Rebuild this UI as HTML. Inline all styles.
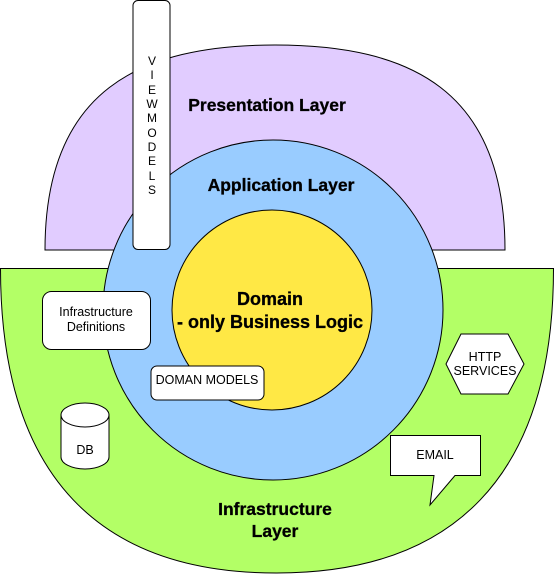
<!DOCTYPE html>
<html><head><meta charset="utf-8"><style>
html,body{margin:0;padding:0;background:#fff;}
svg{display:block;}
text{font-family:"Liberation Sans",Arial,sans-serif;fill:#000;}
</style></head><body>
<svg width="554" height="574" viewBox="0 0 554 574" xmlns="http://www.w3.org/2000/svg">
<path d="M45,250 C45,90 140,45 275,45 C410,45 505,90 505,250 Z" fill="#e1ccff" stroke="#000" stroke-width="1"/>
<path d="M0.5,268.5 L553.5,268.5 C553.5,480 450,573 276.5,573 C103,573 0.5,480 0.5,268.5 Z" fill="#b3ff66" stroke="#000" stroke-width="1"/>
<text x="267" y="111" font-size="17.5" font-weight="bold" text-anchor="middle" stroke="#000" stroke-width="0.3">Presentation Layer</text>
<circle cx="273" cy="310" r="170" fill="#99ccff" stroke="#000"/>
<circle cx="272" cy="310" r="100" fill="#ffe845" stroke="#000"/>
<text x="281" y="191" font-size="17.5" font-weight="bold" text-anchor="middle" stroke="#000" stroke-width="0.3">Application Layer</text>
<text x="270" y="305" font-size="18" font-weight="bold" text-anchor="middle" stroke="#000" stroke-width="0.3">Domain</text>
<text x="270" y="328" font-size="18" font-weight="bold" text-anchor="middle" stroke="#000" stroke-width="0.3">- only Business Logic</text>
<rect x="133" y="0.5" width="37" height="249" rx="5" fill="#fff" stroke="#000"/>
<g font-size="12" text-anchor="middle">
<text x="152" y="65">V</text><text x="152" y="79">I</text><text x="152" y="94">E</text><text x="152" y="108">W</text><text x="152" y="122">M</text><text x="152" y="137">O</text><text x="152" y="151">D</text><text x="152" y="165">E</text><text x="152" y="180">L</text><text x="152" y="194">S</text>
</g>
<rect x="42.5" y="291.5" width="108" height="58" rx="9" fill="#fff" stroke="#000"/>
<text x="96" y="316" font-size="12.5" text-anchor="middle">Infrastructure</text>
<text x="96" y="331" font-size="12.5" text-anchor="middle">Definitions</text>
<rect x="151" y="366" width="113" height="34" rx="6" fill="#fff" stroke="#000"/>
<text x="207" y="384" font-size="12.5" text-anchor="middle">DOMAN MODELS</text>
<path d="M61,415 L61,457 A24,12 0 0 0 109,457 L109,415" fill="#fff" stroke="#000"/>
<ellipse cx="85" cy="415" rx="24" ry="12" fill="#fff" stroke="#000"/>
<text x="85" y="454" font-size="12.5" text-anchor="middle">DB</text>
<polygon points="446,364 461,334 508,334 524,364 508,394 461,394" fill="#fff" stroke="#000"/>
<text x="485" y="361" font-size="12.5" text-anchor="middle">HTTP</text>
<text x="485" y="375" font-size="12.5" text-anchor="middle">SERVICES</text>
<path d="M390.5,435.5 L480.5,435.5 L480.5,475.5 L455,475.5 L430,505 L434,475.5 L390.5,475.5 Z" fill="#fff" stroke="#000"/>
<text x="435" y="459" font-size="12.5" text-anchor="middle">EMAIL</text>
<text x="275" y="515" font-size="17.5" font-weight="bold" text-anchor="middle" stroke="#000" stroke-width="0.3">Infrastructure</text>
<text x="275" y="537" font-size="17.5" font-weight="bold" text-anchor="middle" stroke="#000" stroke-width="0.3">Layer</text>
</svg>
</body></html>
